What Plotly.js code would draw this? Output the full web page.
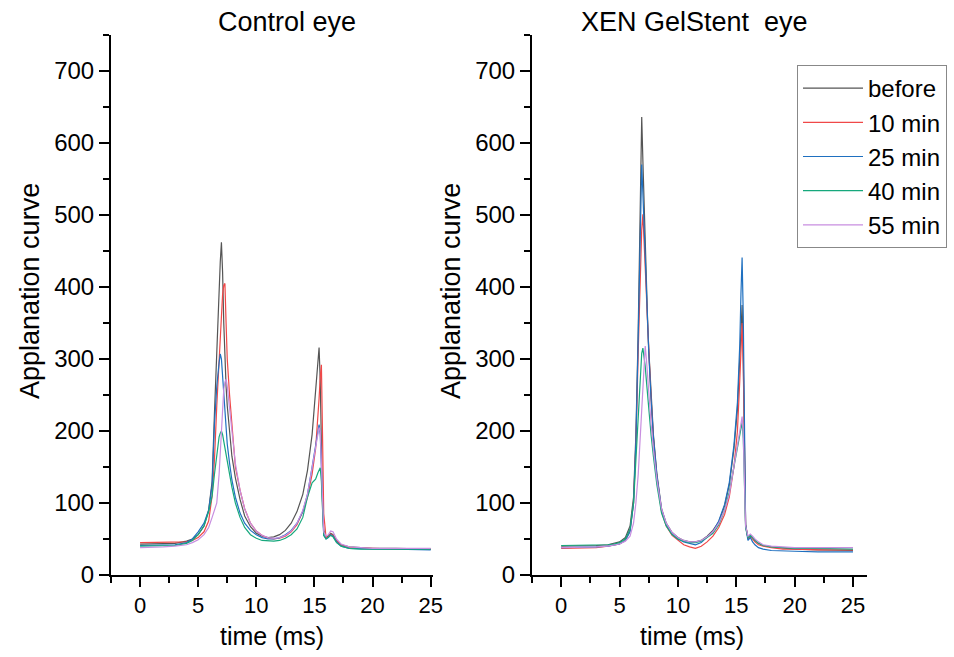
<!DOCTYPE html>
<html>
<head>
<meta charset="utf-8">
<script src="https://cdn.plot.ly/plotly-3.0.1.min.js"></script>
<style>html,body{margin:0;padding:0;background:#fff;}#chart{width:954px;height:657px;}</style>
</head>
<body>
<div id="chart"></div>
<script>
// shared time axis (ms)
const timeMs = [0,1,2,3,4,4.5,5,5.5,5.9,6.2,6.4,6.6,6.8,6.9,7.0,7.1,7.2,7.3,7.4,7.5,7.7,7.9,8.2,8.6,9.0,9.5,10,10.5,11,11.5,12,12.5,13,13.5,14,14.4,14.8,15.1,15.3,15.4,15.5,15.6,15.7,15.8,16.0,16.2,16.4,16.6,16.9,17.3,18,19,20,22,25];

const seriesNames = ["before","10 min","25 min","40 min","55 min"];
const seriesColors = ["#555555","#f04848","#1f70c0","#16a87c","#c88ee0"];

// Control eye
const controlBefore = [43,43,43,44,47,50,56,68,90,130,225,320,400,435,462,420,350,300,262,235,195,165,135,105,82,67,58,54,52,53,56,62,72,88,112,145,195,250,295,316,270,160,90,62,52,54,58,56,48,42,39,38,37,37,36];
const control10 = [45,45,45,45,46,48,52,60,75,110,160,235,300,345,370,390,402,405,350,300,250,210,150,118,92,72,61,55,51,50,51,54,60,70,88,108,140,175,215,245,275,292,190,85,52,53,57,55,47,41,38,37,37,36,36];
const control25 = [41,41,41,42,45,50,60,72,90,125,210,262,295,307,300,275,245,220,200,182,155,132,108,86,72,62,56,52,50,50,52,56,62,72,88,112,150,180,200,209,195,140,80,55,50,52,56,54,46,40,37,36,36,36,35];
const control40 = [40,40,40,41,44,48,56,68,88,110,140,170,192,197,200,195,185,175,165,157,140,122,100,80,66,56,51,48,47,47,48,51,56,64,80,108,128,133,142,146,149,130,80,55,50,52,55,53,45,40,37,36,36,36,36];
const control55 = [38,38,39,40,42,45,49,56,66,80,90,100,140,175,210,238,258,268,272,262,230,195,155,118,92,72,61,55,52,51,52,55,61,72,90,112,148,178,198,205,200,150,85,60,54,56,61,60,50,43,39,38,37,37,37];

// XEN GelStent eye
const xenBefore = [40,40,40,41,42,44,46,52,68,108,195,340,530,636,575,510,455,400,355,315,248,195,140,92,72,59,52,48,46,46,48,54,62,74,96,125,175,230,300,345,375,300,150,70,52,56,52,48,44,41,39,37,36,35,34];
const xen10 = [37,37,37,38,40,41,43,48,62,100,180,310,430,480,501,470,430,390,350,312,245,190,135,88,68,55,48,42,39,37,40,46,54,66,84,108,150,200,270,320,350,290,150,70,50,54,50,46,42,40,38,36,36,35,35];
const xen25 = [38,38,38,39,40,41,43,48,60,100,185,330,500,570,530,480,435,390,348,310,245,192,138,90,70,57,50,46,44,42,45,52,60,75,98,128,180,240,320,390,441,360,180,70,48,52,46,42,38,36,34,33,33,32,32];
const xen40 = [41,41,41,41,42,43,45,50,64,100,160,230,290,308,315,305,290,270,250,228,195,165,125,86,68,56,50,47,45,45,47,52,58,70,90,115,150,180,195,203,212,190,120,65,52,55,52,48,44,41,39,38,37,37,36];
const xen55 = [38,38,38,39,40,41,43,47,54,72,100,140,200,240,275,305,318,300,275,250,210,175,132,92,72,59,52,48,46,46,48,53,60,72,90,112,148,180,200,212,220,195,125,68,54,57,54,50,46,42,40,39,38,38,38];

const controlSeries = [controlBefore, control10, control25, control40, control55];
const xenSeries = [xenBefore, xen10, xen25, xen40, xen55];

const traces = [];
controlSeries.forEach((ys, i) => {
  traces.push({x: timeMs, y: ys, type: 'scatter', mode: 'lines', name: seriesNames[i],
    line: {color: seriesColors[i], width: 1.2}, xaxis: 'x', yaxis: 'y', showlegend: false, legendgroup: 'g'+i});
});
xenSeries.forEach((ys, i) => {
  traces.push({x: timeMs, y: ys, type: 'scatter', mode: 'lines', name: seriesNames[i],
    line: {color: seriesColors[i], width: 1.2}, xaxis: 'x2', yaxis: 'y2', showlegend: true, legendgroup: 'g'+i});
});

const W = 954, H = 657;
const fontFam = 'Arial, "Liberation Sans", sans-serif';
const yDom = [(H-575)/H, (H-35)/H];

function xAxis(dom, rng, anchor) {
  return {domain: dom, range: rng, anchor: anchor, tick0: 0, dtick: 5, ticks: 'outside', ticklen: 10, tickwidth: 2,
    tickcolor: '#000', showline: true, linewidth: 2, linecolor: '#000', showgrid: false, zeroline: false,
    tickfont: {family: fontFam, size: 22, color: '#000'},
    minor: {dtick: 2.5, tick0: 0, ticks: 'outside', ticklen: 6, tickwidth: 2, tickcolor: '#000', showgrid: false}};
}
function yAxis(anchor) {
  return {domain: yDom, range: [0, 750], anchor: anchor, tick0: 0, dtick: 100, ticks: 'outside', ticklen: 10, tickwidth: 2,
    tickcolor: '#000', showline: true, linewidth: 2, linecolor: '#000', showgrid: false, zeroline: false,
    tickfont: {family: fontFam, size: 24, color: '#000'},
    minor: {dtick: 50, tick0: 0, ticks: 'outside', ticklen: 6, tickwidth: 2, tickcolor: '#000', showgrid: false}};
}

const ann = (text, px, py, size, rot) => ({text: text, x: px/W, y: 1 - py/H, xref: 'paper', yref: 'paper',
  xanchor: 'center', yanchor: 'middle', showarrow: false, textangle: rot || 0,
  font: {family: fontFam, size: size, color: '#000'}});

const layout = {
  width: W, height: H,
  margin: {l: 0, r: 0, t: 0, b: 0, autoexpand: false},
  paper_bgcolor: '#fff', plot_bgcolor: 'rgba(0,0,0,0)',
  font: {family: fontFam, color: '#000'},
  xaxis: xAxis([111/W, 433/W], [-2.5, 25.2], 'y'),
  yaxis: yAxis('x'),
  xaxis2: xAxis([532/W, 867/W], [-2.5, 26.2], 'y2'),
  yaxis2: yAxis('x2'),
  showlegend: true,
  legend: {x: 797/W, y: 1 - 65/H, xanchor: 'left', yanchor: 'top', bgcolor: '#fff', bordercolor: '#888', borderwidth: 1,
    font: {family: fontFam, size: 24, color: '#000'}, itemwidth: 60, tracegroupgap: 0, traceorder: 'normal'},
  annotations: [
    ann('Control eye', 287, 22, 27),
    ann('XEN GelStent\u00a0 eye', 694, 22, 27),
    ann('time (ms)', 272, 636, 25),
    ann('time (ms)', 692, 636, 25),
    ann('Applanation curve', 30, 291, 27, -90),
    ann('Applanation curve', 451, 291, 27, -90)
  ]
};

Plotly.newPlot('chart', traces, layout, {displayModeBar: false, staticPlot: true});
</script>
</body>
</html>
